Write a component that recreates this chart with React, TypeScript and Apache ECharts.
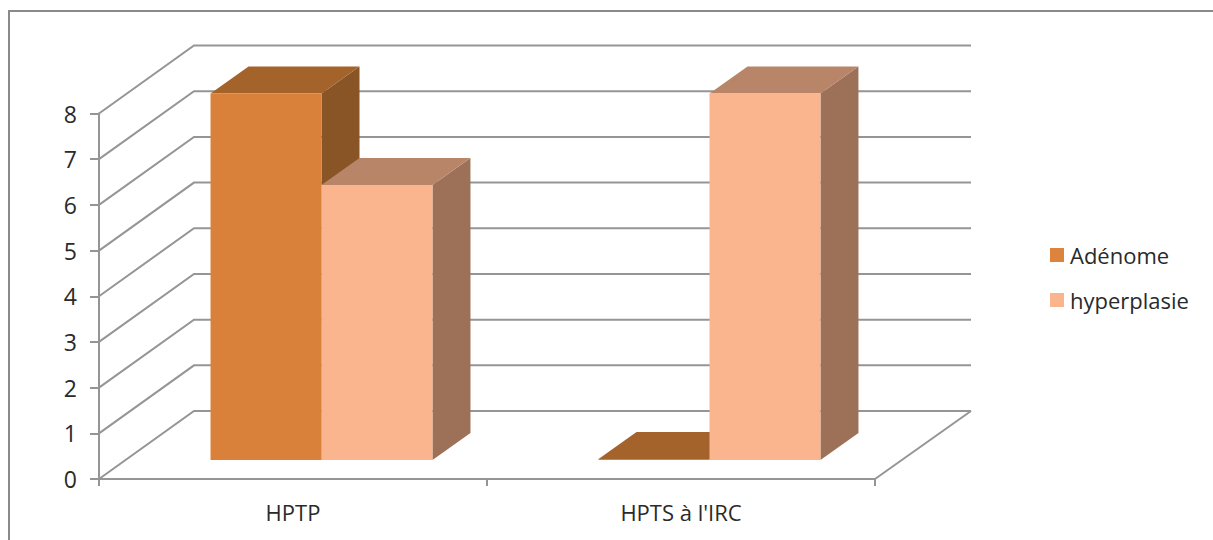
import React, { useEffect, useRef } from "react";
import * as echarts from "echarts";

const categories = ["HPTP", "HPTS à l'IRC"];
const adenome = [8, 0];
const hyperplasie = [6, 8];
const yTicks = [0, 1, 2, 3, 4, 5, 6, 7, 8];

const GRID_COLOR = "#959595";
const WALL_DX = 95;
const WALL_DY = -68;
const BAR_SHIFT_X = 28.5;
const BAR_SHIFT_Y = -19;
const BAR_DX = 38;
const BAR_DY = -27;
const BAR_FRACTION = 0.286;

// Back wall, side wall and floor of the pseudo-3D box
const renderWalls = (params: any, api: any) => {
  const value = api.value(1);
  const [, y] = api.coord([0, value]);
  const left = params.coordSys.x;
  const right = left + params.coordSys.width;
  const style = { stroke: GRID_COLOR, lineWidth: 2, fill: "none" };
  const children: any[] = [
    {
      type: "polyline",
      shape: {
        points: [
          [left, y],
          [left + WALL_DX, y + WALL_DY],
          [right + WALL_DX + 1, y + WALL_DY],
        ],
      },
      style,
    },
  ];
  if (value === 0) {
    children.push({
      type: "line",
      shape: { x1: right, y1: y, x2: right + WALL_DX + 1, y2: y + WALL_DY },
      style,
    });
  }
  return { type: "group", children };
};

// One extruded bar: front, top and side faces
const makeBar = (side: -1 | 0, front: string, top: string, flank: string) => (_: any, api: any) => {
  const cat = api.value(0);
  const [cx, y1] = api.coord([cat, api.value(1)]);
  const [, y0] = api.coord([cat, 0]);
  const w = api.size([1, 0])[0] * BAR_FRACTION;
  const x0 = cx + BAR_SHIFT_X + side * w;
  const x1 = x0 + w;
  const yb = y0 + BAR_SHIFT_Y;
  const yt = y1 + BAR_SHIFT_Y - 1;
  return {
    type: "group",
    children: [
      {
        type: "polygon",
        shape: { points: [[x1, yb], [x1 + BAR_DX, yb + BAR_DY], [x1 + BAR_DX, yt + BAR_DY], [x1, yt]] },
        style: { fill: flank },
      },
      {
        type: "polygon",
        shape: { points: [[x0, yt], [x1, yt], [x1 + BAR_DX, yt + BAR_DY], [x0 + BAR_DX, yt + BAR_DY]] },
        style: { fill: top },
      },
      { type: "rect", shape: { x: x0, y: yt, width: w, height: yb - yt }, style: { fill: front } },
    ],
  };
};

export default function App() {
  const ref = useRef<HTMLDivElement>(null);

  useEffect(() => {
    document.body.style.margin = "0";
    const chart = echarts.init(ref.current!, null, { renderer: "svg" });
    chart.setOption({
      animation: false,
      backgroundColor: "#ffffff",
      textStyle: { fontFamily: "Open Sans" },
      grid: { left: 99, top: 113.5, width: 776, height: 365.5 },
      graphic: [
        {
          type: "rect",
          silent: true,
          shape: { x: 9, y: 11, width: 1300, height: 600 },
          style: { fill: "none", stroke: "#8a8a8a", lineWidth: 2 },
        },
      ],
      legend: {
        orient: "vertical",
        left: 1045,
        top: 239,
        itemWidth: 14,
        itemHeight: 14,
        itemGap: 23,
        icon: "rect",
        data: ["Adénome", "hyperplasie"],
        textStyle: { fontSize: 22, color: "#2a2a2a", fontFamily: "Open Sans", padding: [0, 0, 0, 1] },
      },
      xAxis: {
        type: "category",
        data: categories,
        boundaryGap: true,
        axisLine: { lineStyle: { color: GRID_COLOR, width: 2 } },
        axisTick: { show: true, alignWithLabel: false, length: 7, lineStyle: { color: GRID_COLOR, width: 2 } },
        axisLabel: { color: "#2a2a2a", fontSize: 22, margin: 22, fontFamily: "Open Sans" },
        splitLine: { show: false },
      },
      yAxis: {
        type: "value",
        min: 0,
        max: 8,
        interval: 1,
        axisLine: { show: true, lineStyle: { color: GRID_COLOR, width: 2 } },
        axisTick: { show: true, length: 9, lineStyle: { color: GRID_COLOR, width: 2 } },
        axisLabel: { color: "#2a2a2a", fontSize: 23, margin: 22, padding: [3, 0, 0, 0], fontFamily: "Open Sans" },
        splitLine: { show: false },
      },
      series: [
        {
          type: "custom",
          name: "walls",
          silent: true,
          z: 1,
          renderItem: renderWalls,
          data: yTicks.map((v) => [0, v]),
        },
        {
          type: "custom",
          name: "Adénome",
          z: 2,
          itemStyle: { color: "#DC843D" },
          renderItem: makeBar(-1, "#D9803A", "#A5632C", "#8A5526"),
          data: adenome.map((v, i) => [i, v]),
        },
        {
          type: "custom",
          name: "hyperplasie",
          z: 3,
          itemStyle: { color: "#FBB58E" },
          renderItem: makeBar(0, "#FBB58E", "#B98569", "#9C7158"),
          data: hyperplasie.map((v, i) => [i, v]),
        },
      ],
    });
    return () => chart.dispose();
  }, []);

  return <div ref={ref} style={{ width: 1213, height: 540 }} />;
}
